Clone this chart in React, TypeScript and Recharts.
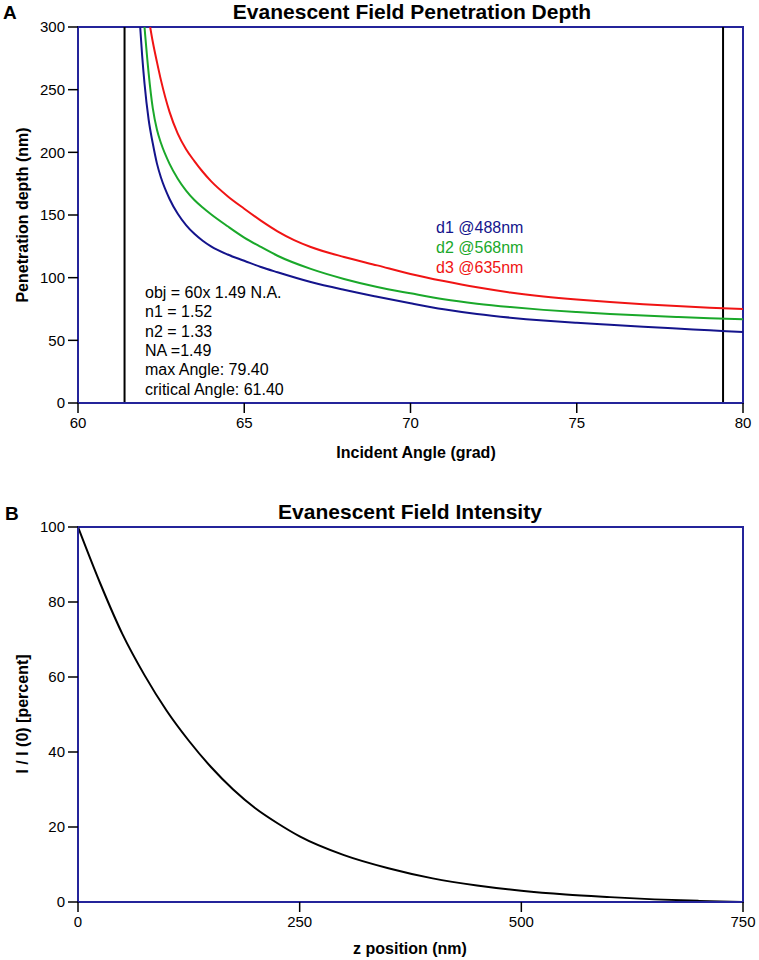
import React from 'react';
import {
  LineChart,
  Line,
  XAxis,
  YAxis,
  ReferenceLine,
  ReferenceArea,
} from 'recharts';

// penetration depth curves
const d1Angles = [61.87, 61.93, 62, 62.125, 62.25, 62.375, 62.5, 62.75, 63, 63.25, 63.5, 63.75, 64, 64.5, 65, 65.5, 66, 67, 68, 69, 70, 71, 72, 73, 74, 75, 76, 77, 78, 79, 80];
const d1Depth = [300, 277, 255, 226, 207, 191, 179.5, 163, 151, 142, 135, 129.5, 125, 118.5, 113.5, 108.5, 104.3, 96.5, 90.3, 84.8, 79.6, 74.8, 71, 68.1, 65.8, 64, 62.4, 60.8, 59.4, 58, 56.6];

const d2Angles = [62, 62.125, 62.25, 62.375, 62.5, 62.75, 63, 63.25, 63.5, 63.75, 64, 64.5, 65, 65.5, 66, 67, 68, 69, 70, 71, 72, 73, 74, 75, 76, 77, 78, 79, 80];
const d2Depth = [300, 263, 235, 218, 207, 191, 179, 169.5, 162, 156, 150.6, 141, 132, 124.5, 117.5, 107, 99, 92.6, 87.5, 82.7, 79.2, 76.5, 74.3, 72.6, 71.1, 69.8, 68.7, 67.7, 66.8];

const d3Angles = [62.17, 62.25, 62.375, 62.5, 62.75, 63, 63.25, 63.5, 63.75, 64, 64.5, 65, 65.5, 66, 66.5, 67, 68, 69, 70, 71, 72, 73, 74, 75, 76, 77, 78, 79, 80];
const d3Depth = [300, 288, 272, 257, 232.5, 215, 202.5, 193, 184.5, 177, 165, 155, 145.5, 137, 130, 124.5, 116.5, 109.8, 103, 97.3, 92.3, 88.2, 85, 82.5, 80.5, 78.8, 77.3, 76, 75];

const angleTicks = [60, 65, 70, 75, 80];
const depthTicks = [0, 50, 100, 150, 200, 250, 300];
const criticalAngle = 61.4;
const maxAngle = 79.4;

const infoLines = [
  'obj = 60x 1.49 N.A.',
  'n1 = 1.52',
  'n2 = 1.33',
  'NA =1.49',
  'max Angle: 79.40',
  'critical Angle: 61.40',
];
const legendLines = ['d1 @488nm', 'd2 @568nm', 'd3 @635nm'];

// intensity decay
const zPos = [0, 25, 50, 75, 100, 125, 150, 175, 200, 225, 250, 300, 350, 400, 450, 500, 550, 600, 650, 700, 750];
const intensity = [100, 85, 71.5, 60.5, 51, 43, 36, 30, 25, 21, 17.5, 12.5, 9, 6.3, 4.4, 3, 2, 1.3, 0.7, 0.3, 0];
const zTicks = [0, 250, 500, 750];
const intensityTicks = [0, 20, 40, 60, 80, 100];

const FONT = '"Liberation Sans", Arial, sans-serif';
const BORDER = '#24249a';
const BLUE = '#14148c';
const GREEN = '#1aa82a';
const RED = '#f01414';

const d1Data = d1Angles.map((a, i) => ({ angle: a, d: d1Depth[i] }));
const d2Data = d2Angles.map((a, i) => ({ angle: a, d: d2Depth[i] }));
const d3Data = d3Angles.map((a, i) => ({ angle: a, d: d3Depth[i] }));
const intensityData = zPos.map((z, i) => ({ z, v: intensity[i] }));

const tickStyle = { fontSize: 15, fill: '#000', fontFamily: FONT };
const tickLine = { stroke: '#000', strokeWidth: 1.5 };
const axisLine = { stroke: BORDER, strokeWidth: 2 };

export default function App() {
  return (
    <div style={{ position: 'absolute', left: 0, top: 0, width: 759, height: 960, background: '#fff', fontFamily: FONT }}>
      <div style={{ position: 'absolute', left: 0, top: 0 }}>
        <LineChart width={759} height={480} margin={{ top: 27, right: 16, left: 18, bottom: 47 }}>
          <XAxis
            type="number"
            dataKey="angle"
            domain={[60, 80]}
            ticks={angleTicks}
            allowDataOverflow
            tick={tickStyle}
            tickLine={tickLine}
            axisLine={axisLine}
            tickSize={10}
            tickMargin={4}
            height={30}
          />
          <YAxis
            type="number"
            domain={[0, 300]}
            ticks={depthTicks}
            allowDataOverflow
            tick={tickStyle}
            tickLine={tickLine}
            axisLine={axisLine}
            tickSize={10}
            tickMargin={3}
            width={60}
          />
          <ReferenceArea x1={60} x2={80} y1={0} y2={300} fill="none" fillOpacity={0} stroke={BORDER} strokeWidth={2} />
          <ReferenceLine x={criticalAngle} stroke="#000" strokeWidth={2} />
          <ReferenceLine x={maxAngle} stroke="#000" strokeWidth={2} />
          <Line data={d1Data} dataKey="d" type="monotone" stroke={BLUE} strokeWidth={2} dot={false} isAnimationActive={false} />
          <Line data={d2Data} dataKey="d" type="monotone" stroke={GREEN} strokeWidth={2} dot={false} isAnimationActive={false} />
          <Line data={d3Data} dataKey="d" type="monotone" stroke={RED} strokeWidth={2} dot={false} isAnimationActive={false} />
        </LineChart>
      </div>
      <div style={{ position: 'absolute', left: 0, top: 480 }}>
        <LineChart width={759} height={480} data={intensityData} margin={{ top: 47, right: 16, left: 18, bottom: 28 }}>
          <XAxis
            type="number"
            dataKey="z"
            domain={[0, 750]}
            ticks={zTicks}
            allowDataOverflow
            tick={tickStyle}
            tickLine={tickLine}
            axisLine={axisLine}
            tickSize={10}
            tickMargin={4}
            height={30}
          />
          <YAxis
            type="number"
            domain={[0, 100]}
            ticks={intensityTicks}
            allowDataOverflow
            tick={tickStyle}
            tickLine={tickLine}
            axisLine={axisLine}
            tickSize={10}
            tickMargin={3}
            width={60}
          />
          <ReferenceArea x1={0} x2={750} y1={0} y2={100} fill="none" fillOpacity={0} stroke={BORDER} strokeWidth={2} />
          <Line dataKey="v" type="monotone" stroke="#000" strokeWidth={2} dot={false} isAnimationActive={false} />
        </LineChart>
      </div>
      <svg width={759} height={960} style={{ position: 'absolute', left: 0, top: 0, pointerEvents: 'none' }} fontFamily={FONT}>
        <text x={3} y={18.5} fontSize={19} fontWeight="bold">A</text>
        <text x={412} y={19} fontSize={21} fontWeight="bold" textAnchor="middle">Evanescent Field Penetration Depth</text>
        <text x={416} y={458} fontSize={16} fontWeight="bold" textAnchor="middle">Incident Angle (grad)</text>
        <text x={28} y={215} fontSize={16} fontWeight="bold" textAnchor="middle" transform="rotate(-90 28 215)">Penetration depth (nm)</text>
        {infoLines.map((t, i) => (
          <text key={t} x={145} y={298 + i * 19.3} fontSize={16}>{t}</text>
        ))}
        {legendLines.map((t, i) => (
          <text key={t} x={436} y={232.5 + i * 20} fontSize={16} fill={[BLUE, GREEN, RED][i]}>{t}</text>
        ))}
        <text x={5} y={519.5} fontSize={19} fontWeight="bold">B</text>
        <text x={410} y={519} fontSize={21} fontWeight="bold" textAnchor="middle">Evanescent Field Intensity</text>
        <text x={410} y={954} fontSize={16} fontWeight="bold" textAnchor="middle">z position (nm)</text>
        <text x={28} y={714} fontSize={16} fontWeight="bold" textAnchor="middle" transform="rotate(-90 28 714)">I / I (0) [percent]</text>
      </svg>
    </div>
  );
}
